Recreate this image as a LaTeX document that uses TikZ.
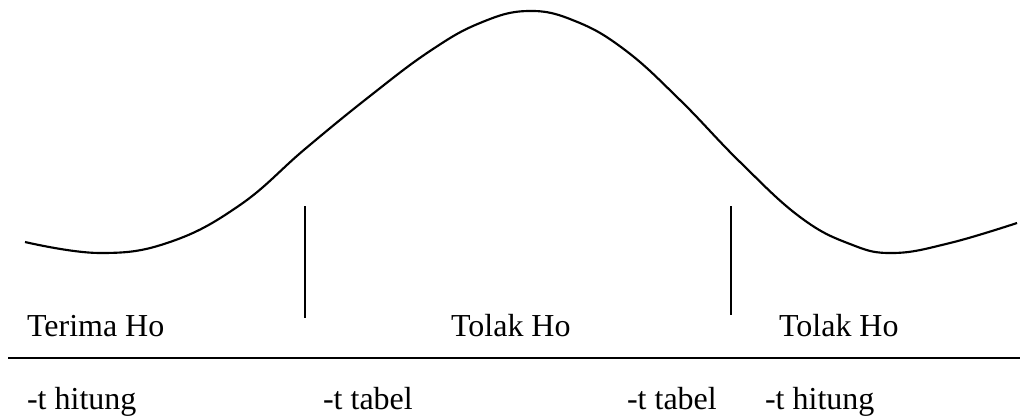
\documentclass[tikz,border=0pt]{standalone}
\usepackage{fontspec}
\setmainfont{Liberation Serif}
\usepackage{tikz}
\usetikzlibrary{positioning}

\begin{document}
\begin{tikzpicture}[x=0.375pt, y=-0.375pt, line width=0.8pt,
    lbl/.style={inner sep=0pt, anchor=base west, font=\fontsize{12}{14}\selectfont}]
    \useasboundingbox (0,0) rectangle (1020,419);
    % curve
    \draw plot[smooth, tension=0.7] coordinates {(25,242) (100,253) (170,242) (240,205) (305,149) (370,96) (430,51) (480,23) (528,11) (575,21) (625,50) (680,100) (740,162) (800,217) (850,244) (893,253) (950,243) (1017,223)};
    % critical lines
    \coordinate (lt) at (305,206);
    \coordinate (lb) at (305,318);
    \coordinate (rt) at (731,206);
    \coordinate (rb) at (731,315);
    \draw (lt) -- (lb);
    \draw (rt) -- (rb);
    % axis
    \coordinate (axl) at (8,358);
    \coordinate (axr) at (1020,358);
    \draw (axl) -- (axr);
    % regions
    \node[lbl] (terima) at (26,336) {Terima Ho};
    \node[lbl] (tolak1) at (450,336) {Tolak Ho};
    \node[lbl] (tolak2) at (778,336) {Tolak Ho};
    % values
    \node[lbl] (hit1) at (26,409) {-t hitung};
    \node[lbl] (tab1) at (322,409) {-t tabel};
    \node[lbl] (tab2) at (626,409) {-t tabel};
    \node[lbl] (hit2) at (764,409) {-t hitung};
\end{tikzpicture}
\end{document}
